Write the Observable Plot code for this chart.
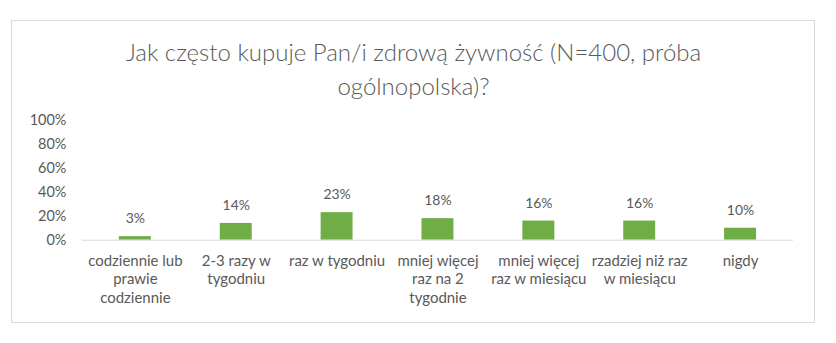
<!DOCTYPE html>
<html><head><meta charset="utf-8">
<script src="https://cdn.jsdelivr.net/npm/d3@7"></script>
<script src="https://cdn.jsdelivr.net/npm/@observablehq/plot@0.6"></script>
<style>
body{margin:0;background:#fff;font-family:Lato,"Open Sans",sans-serif;}
#box{position:absolute;left:11px;top:20px;width:804px;height:303px;border:1px solid #d9d9d9;box-sizing:border-box;}
#title{position:absolute;left:0;top:14px;width:803px;text-align:center;font-family:Lato,sans-serif;font-weight:300;font-size:24px;line-height:34px;color:#595959;}
#chart{position:absolute;left:0;top:0;}
</style></head>
<body>
<div id="box"><div id="chart"></div><div id="title">Jak często kupuje Pan/i zdrową żywność (N=400, próba<br>ogólnopolska)?</div></div>
<script>
const categories = ["codziennie lub\nprawie\ncodziennie","2-3 razy w\ntygodniu","raz w tygodniu","mniej więcej\nraz na 2\ntygodnie","mniej więcej\nraz w miesiącu","rzadziej niż raz\nw miesiącu","nigdy"];
const values = [3,14,23,18,16,16,10];
const yTicks = [0,20,40,60,80,100];
const data = categories.map((c,i)=>({c, v: values[i]}));
const chart = Plot.plot({
  width: 803, height: 302,
  marginLeft: 70, marginRight: 21, marginTop: 99, marginBottom: 83,
  style: {fontFamily: "Lato, sans-serif", fontSize: "14px", color: "#595959", background: "transparent"},
  x: {domain: categories, paddingInner: 0.685, paddingOuter: 0.3425, align: 0.5, label: null},
  y: {domain: [0,100], label: null},
  marks: [
    Plot.axisX({tickSize: 0, tickPadding: 13, lineHeight: 1.22, fontSize: 15, fill: "#595959"}),
    Plot.axisY({ticks: yTicks, tickFormat: d => d + "%", tickSize: 0, tickPadding: 16, fontSize: 14.5, fill: "#595959"}),
    Plot.barY(data, {x: "c", y: "v", fill: "#70AD47"}),
    Plot.ruleY([0], {stroke: "#d9d9d9", strokeWidth: 1}),
    Plot.text(data, {x: "c", y: "v", text: d => d.v + "%", dy: -18, fontSize: 14, fill: "#595959"})
  ]
});
document.getElementById("chart").appendChild(chart);
</script>
</body></html>
